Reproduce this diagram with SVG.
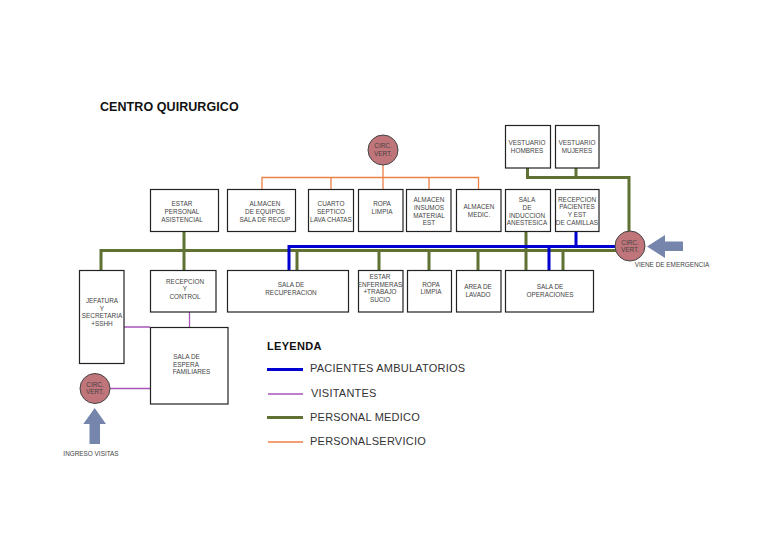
<svg xmlns="http://www.w3.org/2000/svg" width="768" height="543" viewBox="0 0 768 543">
<style>
text{font-family:"Liberation Sans",Arial,sans-serif;fill:#444;font-size:6.4px;text-anchor:middle}
.box{fill:#fff;stroke:#222;stroke-width:1.2}
.circ{fill:#c0757a;stroke:#444;stroke-width:1}
.g{fill:none;stroke:#5f7233;stroke-width:3}
.b{fill:none;stroke:#0000d0;stroke-width:3}
.v{fill:none;stroke:#a855b8;stroke-width:1.3}
.o{fill:none;stroke:#ee7f45;stroke-width:1.3}
.arrow{fill:#7585ab}
.leg{font-size:11px;text-anchor:start;letter-spacing:.23px;fill:#333}
.h{font-weight:bold;fill:#111;text-anchor:start}
</style>
<rect width="768" height="543" fill="#fff"/>
<text class="h" x="100" y="111" style="font-size:12.500px;letter-spacing:.07px">CENTRO QUIRURGICO</text>
<g id="connectors">
<path class="o" d="M262 190V177.500H478.500V190M383 165V190M331 177.500V190M429 177.500V190"/>
<path class="g" d="M101 270V250.500H630M184 232V270M297 250V270M379 250V270M429 250V270M478 250V270M526 232V270M563 250V270"/>
<path class="g" d="M527.500 168V177.500H629V232M576 168V177.500"/>
<path class="b" d="M289 270V246.500H616M549 246V270M576 232V246"/>
<path class="v" d="M124 327H150M189.500 312V327M110 388.500H150"/>
</g>
<g id="estar-personal"><rect class="box" x="150.500" y="189.500" width="68" height="42"/><text x="182" y="206">ESTAR</text><text x="182" y="214">PERSONAL</text><text x="182" y="222">ASISTENCIAL</text></g>
<g id="almacen-equipos"><rect class="box" x="227.500" y="189.500" width="68" height="42"/><text x="265" y="206">ALMACEN</text><text x="265" y="214">DE EQUIPOS</text><text x="265" y="222">SALA DE RECUP</text></g>
<g id="cuarto-septico"><rect class="box" x="308.500" y="189.500" width="45" height="42"/><text x="331" y="206">CUARTO</text><text x="331" y="214">SEPTICO</text><text x="331" y="222">LAVA CHATAS</text></g>
<g id="ropa-limpia-1"><rect class="box" x="358.500" y="189.500" width="44.500" height="42"/><text x="382" y="206">ROPA</text><text x="382" y="214">LIMPIA</text></g>
<g id="almacen-insumos"><rect class="box" x="406.500" y="189.500" width="44.500" height="42"/><text x="429" y="202">ALMACEN</text><text x="429" y="210">INSUMOS</text><text x="429" y="218">MATERIAL</text><text x="429" y="225">EST</text></g>
<g id="almacen-medic"><rect class="box" x="456.500" y="189.500" width="44.500" height="42"/><text x="479" y="209">ALMACEN</text><text x="479" y="217">MEDIC.</text></g>
<g id="sala-induccion"><rect class="box" x="505.500" y="189.500" width="45" height="42"/><text x="527" y="202">SALA</text><text x="527" y="210">DE</text><text x="527" y="218">INDUCCION</text><text x="527" y="225">ANESTESICA</text></g>
<g id="recepcion-pacientes"><rect class="box" x="555.500" y="189.500" width="43.500" height="42"/><text x="577" y="202">RECEPCION</text><text x="577" y="209">PACIENTES</text><text x="577" y="217">Y EST</text><text x="577" y="225">DE CAMILLAS</text></g>
<g id="vestuario-hombres"><rect class="box" x="505.500" y="125.500" width="45" height="42.500"/><text x="527" y="145">VESTUARIO</text><text x="527" y="153">HOMBRES</text></g>
<g id="vestuario-mujeres"><rect class="box" x="555.500" y="125.500" width="43.500" height="42.500"/><text x="577" y="145">VESTUARIO</text><text x="577" y="153">MUJERES</text></g>
<g id="circ-top"><circle class="circ" cx="383" cy="150" r="15"/><text x="383" y="148">CIRC.</text><text x="383" y="155.500">VERT.</text></g>
<g id="circ-right"><circle class="circ" cx="630" cy="246" r="15"/><text x="630" y="244.500">CIRC.</text><text x="630" y="251.500">VERT.</text></g>
<g id="circ-left"><circle class="circ" cx="95" cy="388.500" r="15"/><text x="95" y="386.500">CIRC.</text><text x="95" y="394">VERT.</text></g>
<g id="jefatura"><rect class="box" x="79.500" y="270.500" width="44.500" height="93"/><text x="102" y="303">JEFATURA</text><text x="102" y="311">Y</text><text x="102" y="318">SECRETARIA</text><text x="102" y="326">+SSHH</text></g>
<g id="recepcion-control"><rect class="box" x="150.500" y="270.500" width="65.500" height="41.500"/><text x="185" y="284">RECEPCION</text><text x="185" y="291">Y</text><text x="185" y="299">CONTROL</text></g>
<g id="sala-recuperacion"><rect class="box" x="227.500" y="270.500" width="121" height="41.500"/><text x="291" y="287">SALA DE</text><text x="291" y="295">RECUPERACION</text></g>
<g id="estar-enfermeras"><rect class="box" x="358.500" y="270.500" width="44.500" height="41.500"/><text x="380" y="279">ESTAR</text><text x="380" y="287">ENFERMERAS</text><text x="380" y="294">+TRABAJO</text><text x="380" y="302">SUCIO</text></g>
<g id="ropa-limpia-2"><rect class="box" x="407.500" y="270.500" width="44" height="41.500"/><text x="431" y="287">ROPA</text><text x="431" y="294">LIMPIA</text></g>
<g id="area-lavado"><rect class="box" x="456.500" y="270.500" width="44.500" height="41.500"/><text x="478" y="289">AREA DE</text><text x="478" y="297">LAVADO</text></g>
<g id="sala-operaciones"><rect class="box" x="505.500" y="270.500" width="88" height="41.500"/><text x="550" y="289">SALA DE</text><text x="550" y="297">OPERACIONES</text></g>
<g id="sala-espera"><rect class="box" x="150.500" y="327.500" width="77.500" height="76.500"/><text x="186.500" y="359">SALA DE</text><text x="186" y="367">ESPERA</text><text x="191.500" y="374">FAMILIARES</text></g>
<g id="arrow-emergencia"><polygon class="arrow" points="647,246.500 665,235 665,241.500 683,241.500 683,251 665,251 665,258"/><text x="672" y="267">VIENE DE EMERGENCIA</text></g>
<g id="arrow-visitas"><polygon class="arrow" points="94.700,408 106,424 100,424 100,444 89.500,444 89.500,424 83.300,424"/><text x="91" y="456">INGRESO VISITAS</text></g>
<g id="leyenda">
<text class="h" x="267" y="350" style="font-size:11px;letter-spacing:.3px">LEYENDA</text>
<path class="b" d="M267 369.500H303"/><text class="leg" x="310" y="372">PACIENTES AMBULATORIOS</text>
<path class="v" d="M268 394H303"/><text class="leg" x="311" y="396.500">VISITANTES</text>
<path class="g" d="M267 417.500H303"/><text class="leg" x="310" y="420.500">PERSONAL MEDICO</text>
<path class="o" d="M268 442H303"/><text class="leg" x="310" y="445">PERSONALSERVICIO</text>
</g>
</svg>
